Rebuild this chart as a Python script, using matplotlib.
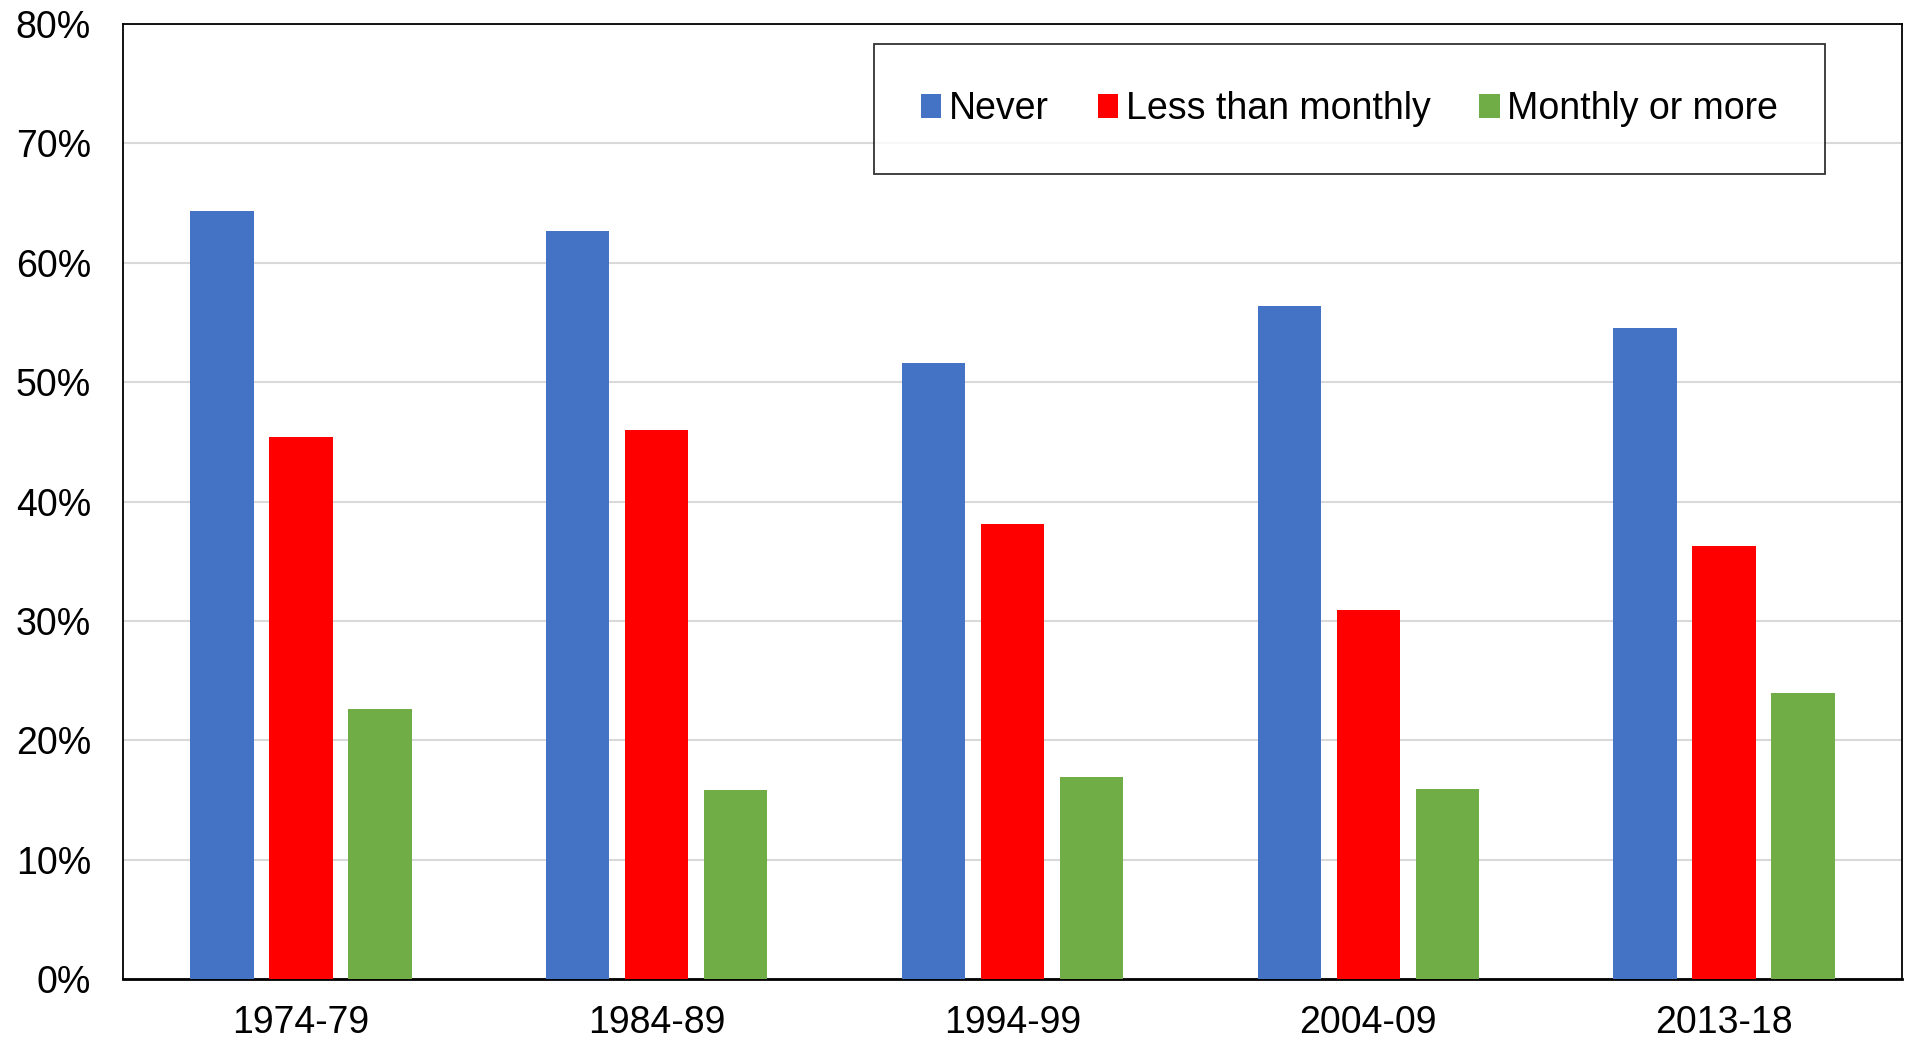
import numpy as np
import matplotlib.pyplot as plt

plt.rcParams['font.family'] = ['Liberation Sans', 'DejaVu Sans']

# Data
periods = ['1974-79', '1984-89', '1994-99', '2004-09', '2013-18']
never = [64.3, 62.7, 51.6, 56.4, 54.5]
less_than_monthly = [45.4, 46.0, 38.1, 30.9, 36.3]
monthly_or_more = [22.6, 15.8, 16.9, 15.9, 24.0]

series = [
    ('Never', never, '#4472C4'),
    ('Less than monthly', less_than_monthly, '#FF0000'),
    ('Monthly or more', monthly_or_more, '#70AD47'),
]

fig = plt.figure(figsize=(19.06, 10.41), dpi=100)
ax = fig.add_axes([123 / 1906, 1 - 979 / 1041, (1902 - 123) / 1906, (979 - 24) / 1041])

x = np.arange(len(periods))
width = 0.178
offset = 0.222
for i, (name, vals, color) in enumerate(series):
    ax.bar(x + (i - 1) * offset, vals, width, color=color, label=name, zorder=3)

ax.set_xlim(-0.5, len(periods) - 0.5)
ax.set_ylim(0, 80)
ax.set_yticks(range(0, 81, 10))
ax.set_yticklabels([f'{v}%' for v in range(0, 81, 10)])
ax.set_xticks(x)
ax.set_xticklabels(periods)
ax.tick_params(axis='both', length=0, labelsize=27)
ax.tick_params(axis='y', pad=23)
ax.tick_params(axis='x', pad=19)

ax.yaxis.grid(True, color='#d9d9d9', linewidth=1.5, zorder=0)
for side in ['left', 'right', 'top']:
    ax.spines[side].set_linewidth(1.3)
    ax.spines[side].set_color('black')
ax.spines['bottom'].set_linewidth(2)

leg = ax.legend(ncol=3, loc='upper left', bbox_to_anchor=(874 / 1906, 1 - 44 / 1041),
                bbox_transform=fig.transFigure, fontsize=27, frameon=True, fancybox=False,
                handlelength=0.55, handleheight=0.6, handletextpad=0.2, columnspacing=1.3,
                borderpad=1.25, borderaxespad=0, edgecolor='black')
leg.get_frame().set_linewidth(1.3)
leg.set_zorder(5)

fig.savefig('out.png', dpi=100)
